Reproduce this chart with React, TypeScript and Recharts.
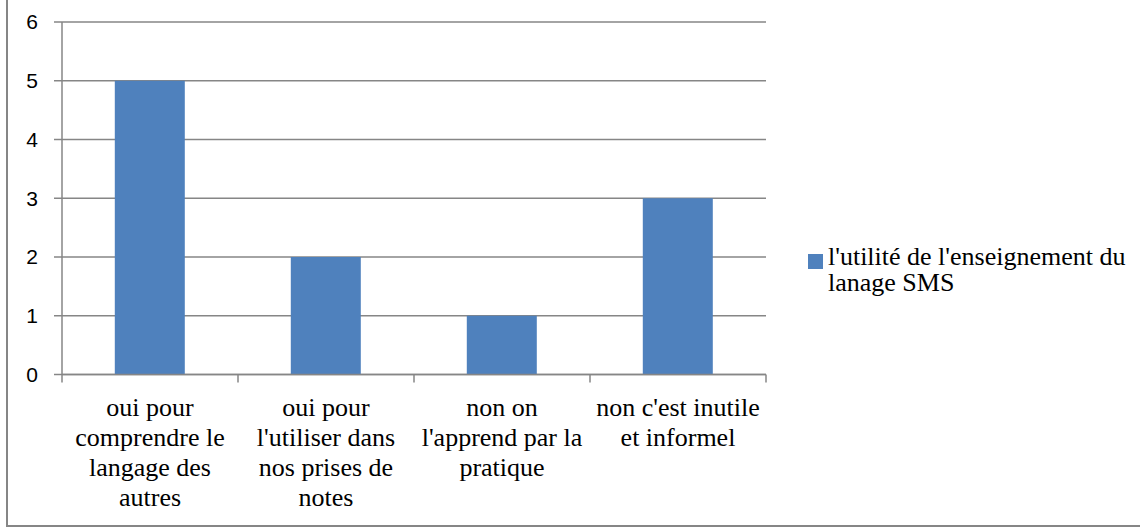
import { BarChart, Bar, XAxis, YAxis, CartesianGrid, Legend } from 'recharts';

const categories = [
  'oui pour\ncomprendre le\nlangage des\nautres',
  "oui pour\nl'utiliser dans\nnos prises de\nnotes",
  "non on\nl'apprend par la\npratique",
  "non c'est inutile\net informel",
];
const seriesName = "l'utilité de l'enseignement du lanage SMS";
const values = [5, 2, 1, 3];
const yTicks = [0, 1, 2, 3, 4, 5, 6];

const data = categories.map((category, i) => ({ category, value: values[i] }));

const W = 1140;
const H = 532;
const LEFT = 62;
const RIGHT = 374;
const GRID = '#868686';
const BAR = '#4F81BD';
const SERIF = 'Liberation Serif, DejaVu Serif, serif';
const SANS = 'Liberation Sans, DejaVu Sans, sans-serif';
const HALF_BAND = (W - LEFT - RIGHT) / categories.length / 2;

function CategoryTick(props: any) {
  const { x, y, payload, index } = props;
  const lines = String(payload.value).split('\n');
  const last = index === categories.length - 1;
  return (
    <g>
      <line x1={x - HALF_BAND} x2={x - HALF_BAND} y1={y} y2={y + 8} stroke={GRID} strokeWidth={1.5} />
      {last && <line x1={x + HALF_BAND} x2={x + HALF_BAND} y1={y} y2={y + 8} stroke={GRID} strokeWidth={1.5} />}
      <text x={x} y={y + 41.5} textAnchor="middle" style={{ fontFamily: SERIF, fontSize: 26 }} fill="#000">
        {lines.map((line, i) => (
          <tspan key={i} x={x} dy={i === 0 ? 0 : 30}>
            {line}
          </tspan>
        ))}
      </text>
    </g>
  );
}

function LegendBox() {
  return (
    <div style={{ display: 'flex', alignItems: 'flex-start', fontFamily: SERIF, fontSize: 26, lineHeight: '26px', color: '#000' }}>
      <span style={{ display: 'inline-block', width: 15, height: 15, background: BAR, marginTop: 10, marginRight: 5, flex: 'none' }} />
      <span style={{ width: 310 }}>{seriesName}</span>
    </div>
  );
}

export default function App() {
  return (
    <div style={{ position: 'absolute', left: 0, top: 0, width: W, height: H, overflow: 'hidden', background: '#fff' }}>
      <div
        style={{
          position: 'absolute',
          left: 6,
          top: -4,
          width: 1200,
          height: 531,
          border: `2px solid ${GRID}`,
          boxSizing: 'border-box',
        }}
      />
      <div style={{ position: 'absolute', left: 0, top: 0 }}>
        <BarChart width={W} height={H} data={data} margin={{ top: 22, right: RIGHT, bottom: 0, left: 0 }} barCategoryGap="30%">
          <CartesianGrid vertical={false} stroke={GRID} strokeWidth={1.5} />
          <XAxis
            dataKey="category"
            height={157.5}
            interval={0}
            tickSize={0}
            tickMargin={0}
            axisLine={{ stroke: GRID, strokeWidth: 1.5 }}
            tickLine={false}
            tick={<CategoryTick />}
          />
          <YAxis
            width={LEFT}
            domain={[0, 6]}
            ticks={yTicks}
            interval={0}
            tickSize={8}
            tickMargin={16}
            axisLine={{ stroke: GRID, strokeWidth: 1.5 }}
            tickLine={{ stroke: GRID, strokeWidth: 1.5 }}
            tick={{ fill: '#000', fontFamily: SANS, fontSize: 21, style: { fontFamily: SANS, fontSize: 21 } }}
          />
          <Legend
            layout="vertical"
            align="center"
            verticalAlign="middle"
            wrapperStyle={{ left: 808, top: 244, width: 330 }}
            content={<LegendBox />}
          />
          <Bar dataKey="value" name={seriesName} fill={BAR} isAnimationActive={false} />
        </BarChart>
      </div>
    </div>
  );
}
